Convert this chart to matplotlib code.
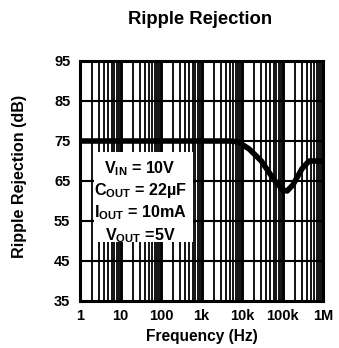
import matplotlib
matplotlib.use("Agg")
import matplotlib.pyplot as plt
import numpy as np

fam = "Liberation Sans"
plt.rcParams['font.family'] = [fam, 'DejaVu Sans']
plt.rcParams['font.weight'] = 'bold'
plt.rcParams['mathtext.fontset'] = 'custom'
plt.rcParams['mathtext.rm'] = fam + ':bold'
plt.rcParams['mathtext.it'] = fam + ':bold'
plt.rcParams['mathtext.bf'] = fam + ':bold'

# Data
freq_hz = [1, 1000, 5000, 8000, 15000, 30000, 60000, 100000, 130000, 180000, 300000, 450000, 1000000]
rejection_db = [75, 75, 75, 74.8, 73, 70, 65.5, 62.8, 62.5, 64, 68, 70, 70]
x_ticks = [1, 10, 100, 1e3, 1e4, 1e5, 1e6]
x_tick_labels = ["1", "10", "100", "1k", "10k", "100k", "1M"]
y_ticks = [35, 45, 55, 65, 75, 85, 95]
conditions = [r"$\mathrm{V_{IN}}$ = 10V", r"$\mathrm{C_{OUT}}$ = 22µF",
              r"$\mathrm{I_{OUT}}$ = 10mA", r"$\mathrm{V_{OUT}}$ =5V"]

W, H = 339, 348
fig = plt.figure(figsize=(W/100, H/100), dpi=100)
ax = fig.add_axes([80/W, 1-301/H, 243/W, 240/H])
ax.set_xscale('log')
ax.set_xlim(1, 1e6)
ax.set_ylim(35, 95)

# grid
for d in range(6):
    for m in range(2, 10):
        ax.axvline(m * 10**d, color='black', lw=1.3, zorder=1)
    if d > 0:
        ax.axvline(10**d, color='black', lw=2.1, zorder=1)
for y in y_ticks[1:-1]:
    ax.axhline(y, color='black', lw=1.5, zorder=1)

# white box with conditions
ax.add_patch(plt.Rectangle(((94-80)/243, (301-242)/240),
                           (193-94)/243, (242-152)/240, transform=ax.transAxes,
                           facecolor='white', edgecolor='none', zorder=2))
baselines = [173, 195, 217, 240]
for t, yp in zip(conditions, baselines):
    ax.text((140-80)/243, (301-yp)/240, t, transform=ax.transAxes, ha='center', va='baseline',
            fontsize=11.6, fontweight='bold', zorder=3)

ax.plot(freq_hz, rejection_db, color='black', lw=4, solid_joinstyle='round',
        solid_capstyle='round', zorder=4)

ax.set_xticks(x_ticks)
ax.set_xticklabels(x_tick_labels)
ax.xaxis.set_minor_locator(matplotlib.ticker.NullLocator())
ax.set_yticks(y_ticks)
ax.tick_params(length=0, labelsize=10.5)
ax.tick_params(axis='y', pad=7)
ax.tick_params(axis='x', pad=6)
for s in ax.spines.values():
    s.set_linewidth(2.2)
    s.set_zorder(5)

ax.set_xlabel("Frequency (Hz)", fontsize=11.2, fontweight='bold')
ax.xaxis.label.set_va('baseline')
ax.xaxis.set_label_coords(0.5, (301-341)/240)
ax.set_ylabel("Ripple Rejection (dB)", fontsize=11.6, fontweight='bold')
ax.yaxis.label.set_va('center')
ax.yaxis.set_label_coords((20-80)/243, (301-176)/240)
fig.text(200/W, 1-24/H, "Ripple Rejection", ha='center', va='baseline', fontsize=13.3, fontweight='bold')

fig.savefig("out.png", dpi=100)
